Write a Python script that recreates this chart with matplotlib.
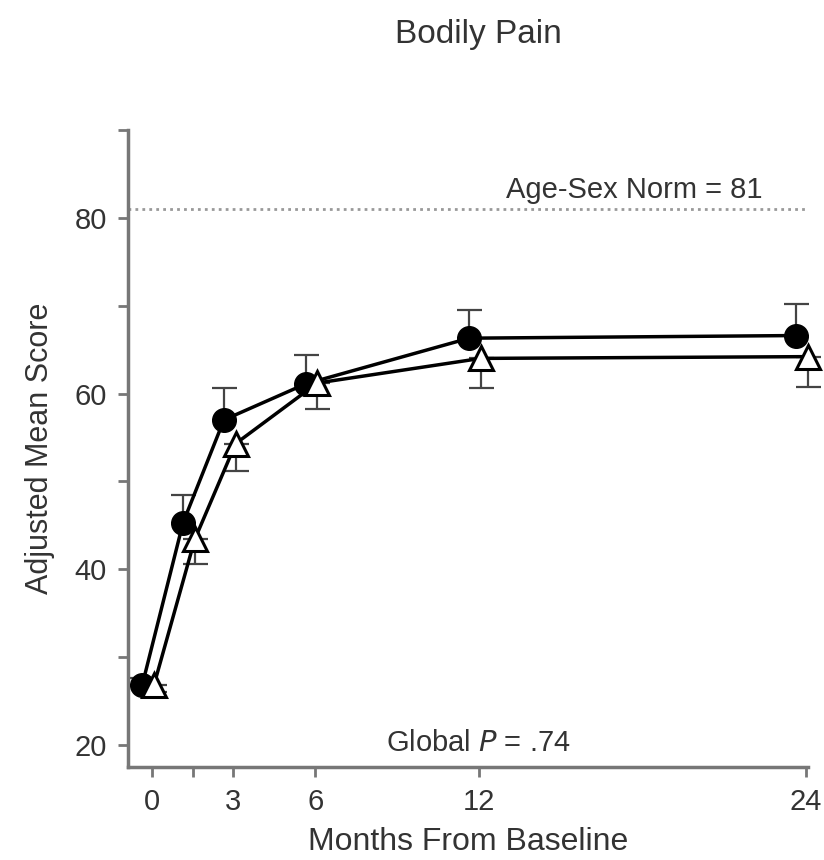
#!/usr/bin/env python3

'''Bodily Pain: adjusted mean score over months from baseline
'''

import matplotlib
matplotlib.use('Agg')
import matplotlib.pyplot as plt

plt.rcParams['font.family'] = ['Liberation Sans', 'DejaVu Sans']

# data
months = [0, 1.5, 3, 6, 12, 24]
circle_mean = [26.8, 45.3, 57.0, 61.1, 66.3, 66.6]
circle_err = [0.8, 3.2, 3.6, 3.3, 3.2, 3.6]
triangle_mean = [26.8, 43.4, 54.3, 61.2, 64.0, 64.2]
triangle_err = [0.8, 2.8, 3.1, 3.0, 3.4, 3.4]
norm_value = 81
x_ticks = [0, 3, 6, 12, 24]
x_minor = [1.5]
y_ticks = [20, 40, 60, 80]
y_minor = [30, 50, 70, 90]

# small horizontal shift so the two groups do not overlap
circle_shift = -0.35
triangle_shift = 0.08

txt = '#333333'
axc = '#777777'

fig = plt.figure(figsize=(8.24, 8.6), dpi=100)
ax = fig.add_axes([0.155, 0.108, 0.826, 0.741])

ax.axhline(norm_value, color='#999999', lw=2, ls=(0, (1, 1.5)), zorder=1)

xc = [m + circle_shift for m in months]
xt = [m + triangle_shift for m in months]

# circles show upper error bars, triangles lower ones
ax.errorbar(xc, circle_mean, yerr=[[0] * len(months), circle_err], fmt='none',
            ecolor='#444444', elinewidth=1.6, capsize=9, capthick=1.6, zorder=2, clip_on=False)
ax.errorbar(xt, triangle_mean, yerr=[triangle_err, [0] * len(months)], fmt='none',
            ecolor='#444444', elinewidth=1.6, capsize=9, capthick=1.6, zorder=2, clip_on=False)

ax.plot(xc, circle_mean, color='black', lw=2.5, marker='o', ms=17,
        mfc='black', mec='black', zorder=3, clip_on=False)
ax.plot(xt, triangle_mean, color='black', lw=2.5, marker='^', ms=17,
        mfc='white', mec='black', mew=2.2, zorder=4, clip_on=False)

ax.set_xlim(-0.88, 24.1)
ax.set_ylim(17.5, 90)
ax.set_xticks(x_ticks)
ax.set_xticks(x_minor, minor=True)
ax.set_yticks(y_ticks)
ax.set_yticks(y_minor, minor=True)

for side in ['top', 'right']:
    ax.spines[side].set_visible(False)
for side in ['left', 'bottom']:
    ax.spines[side].set_color(axc)
    ax.spines[side].set_linewidth(2.5)

ax.tick_params(which='both', direction='out', length=7, width=2, color=axc,
               labelsize=21, labelcolor=txt, pad=8)

ax.set_xlabel('Months From Baseline', fontsize=23, color=txt, labelpad=8)
ax.set_ylabel('Adjusted Mean Score', fontsize=22, color=txt, labelpad=14)

ax.text(17.7, norm_value + 0.6, 'Age-Sex Norm = 81', fontsize=21, color=txt,
        ha='center', va='bottom')
ax.text(12.0, 20.3, 'Global $\\it{P}$ = .74', fontsize=21, color=txt,
        ha='center', va='center')

fig.text(0.58, 0.96, 'Bodily Pain', fontsize=24, color=txt, ha='center', va='center')

fig.savefig('out.png', dpi=100)
